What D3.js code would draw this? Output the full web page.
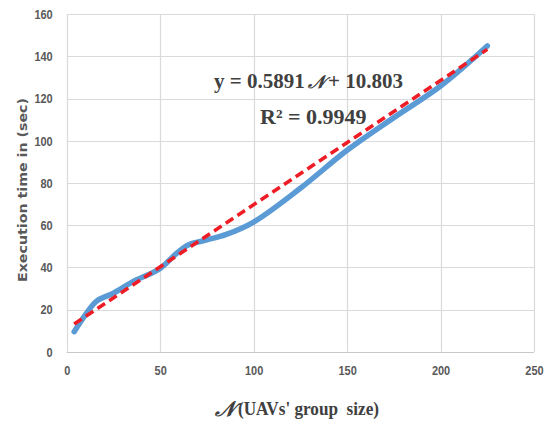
<!DOCTYPE html>
<html>
<head>
<meta charset="utf-8">
<script src="https://cdn.jsdelivr.net/npm/d3@7/dist/d3.min.js"></script>
<style>
  html, body { margin: 0; padding: 0; background: #fff; }
  svg { display: block; }
</style>
</head>
<body>
<svg id="chart" width="550" height="423"></svg>
<script>
// Measured execution time per group size
const groupSize = [4, 10, 16, 25, 35, 50, 58, 65, 75, 85, 100, 125, 150, 175, 200, 225];
const execTime  = [9.5, 17.5, 24, 27.8, 33, 39.5, 46, 50.6, 53, 55.5, 61.5, 77.5, 95.5, 111, 126, 145];

// Linear fit reported on the chart
const fitSlope = 0.5891;
const fitIntercept = 10.803;
const fitR2 = 0.9949;
const fitRange = [4, 225];

const xTicks = [0, 50, 100, 150, 200, 250];
const yTicks = [0, 20, 40, 60, 80, 100, 120, 140, 160];

const svg = d3.select("#chart");
const x = d3.scaleLinear().domain([0, 250]).range([66.7, 534]);
const y = d3.scaleLinear().domain([0, 160]).range([351.7, 14.3]);

const tickFont = "'Liberation Sans', Arial, sans-serif";
const serif = "'Liberation Serif', 'Times New Roman', serif";

// grid
const grid = svg.append("g");
grid.selectAll("line.h").data(yTicks).join("line")
  .attr("x1", x(0)).attr("x2", x(250))
  .attr("y1", d => Math.round(y(d)) + 0.5).attr("y2", d => Math.round(y(d)) + 0.5)
  .attr("stroke", d => d === 0 ? "#c8c8c8" : "#dadada").attr("stroke-width", 1.2);
grid.selectAll("line.v").data(xTicks).join("line")
  .attr("y1", y(0)).attr("y2", y(160))
  .attr("x1", d => Math.round(x(d)) + 0.5).attr("x2", d => Math.round(x(d)) + 0.5)
  .attr("stroke", "#dadada").attr("stroke-width", 1.2);

// axes via d3 axis generators, styled as plain labels
const xAxis = svg.append("g").attr("transform", `translate(0,${y(0)})`)
  .call(d3.axisBottom(x).tickValues(xTicks).tickSize(0).tickPadding(14));
const yAxis = svg.append("g").attr("transform", `translate(${x(0)},0)`)
  .call(d3.axisLeft(y).tickValues(yTicks).tickSize(0).tickPadding(14));
[xAxis, yAxis].forEach(g => {
  g.select(".domain").remove();
  g.selectAll("text").attr("fill", "#595959")
    .attr("textLength", d => String(d).length * 6.1)
    .attr("lengthAdjust", "spacingAndGlyphs")
    .style("font-family", tickFont).style("font-size", "13.5px").style("font-weight", "bold");
});

// measured curve
const line = d3.line()
  .x((d, i) => x(groupSize[i]))
  .y(d => y(d))
  .curve(d3.curveCatmullRom.alpha(0.5));
svg.append("path")
  .datum(execTime)
  .attr("d", line)
  .attr("fill", "none")
  .attr("stroke", "#5b9bd5")
  .attr("stroke-width", 5.5)
  .attr("stroke-linecap", "round")
  .attr("stroke-linejoin", "round");

// trend line
svg.append("line")
  .attr("x1", x(fitRange[0])).attr("y1", y(fitSlope * fitRange[0] + fitIntercept))
  .attr("x2", x(fitRange[1])).attr("y2", y(fitSlope * fitRange[1] + fitIntercept))
  .attr("stroke", "#ee1c25")
  .attr("stroke-width", 3.5)
  .attr("stroke-dasharray", "9,5");

// fit equation
const eqStyle = t => t.attr("fill", "#404040").attr("font-family", serif)
  .attr("font-weight", "bold").attr("font-size", "21px");
svg.append("text").attr("x", 214).attr("y", 88).call(eqStyle)
  .text(`y = ${fitSlope}`);
svg.append("text").attr("x", 308).attr("y", 88).call(eqStyle)
  .attr("font-size", "18px").attr("font-style", "italic").text("𝒩");
svg.append("text").attr("x", 403).attr("y", 88).attr("text-anchor", "end").call(eqStyle)
  .text(`+ ${fitIntercept}`);

svg.append("text")
  .attr("x", 260).attr("y", 124)
  .call(eqStyle)
  .attr("font-size", "22px")
  .text(`R² = ${fitR2}`);

// axis titles
svg.append("text")
  .attr("transform", "translate(27,190) rotate(-90)")
  .attr("text-anchor", "middle")
  .attr("fill", "#595959")
  .attr("textLength", 184).attr("lengthAdjust", "spacingAndGlyphs")
  .attr("font-family", "'DejaVu Sans', sans-serif").attr("font-weight", "bold").attr("font-size", "13px")
  .text("Execution time in (sec)");

svg.append("text")
  .attr("x", 215).attr("y", 416)
  .attr("fill", "#404040")
  .attr("font-family", serif).attr("font-weight", "bold").attr("font-size", "21px")
  .attr("font-style", "italic")
  .text("𝒩");
svg.append("text")
  .attr("x", 238).attr("y", 415)
  .attr("fill", "#404040")
  .attr("textLength", 141).attr("lengthAdjust", "spacingAndGlyphs")
  .attr("xml:space", "preserve")
  .attr("font-family", serif).attr("font-weight", "bold").attr("font-size", "18px")
  .text("(UAVs' group  size)");
</script>
</body>
</html>
